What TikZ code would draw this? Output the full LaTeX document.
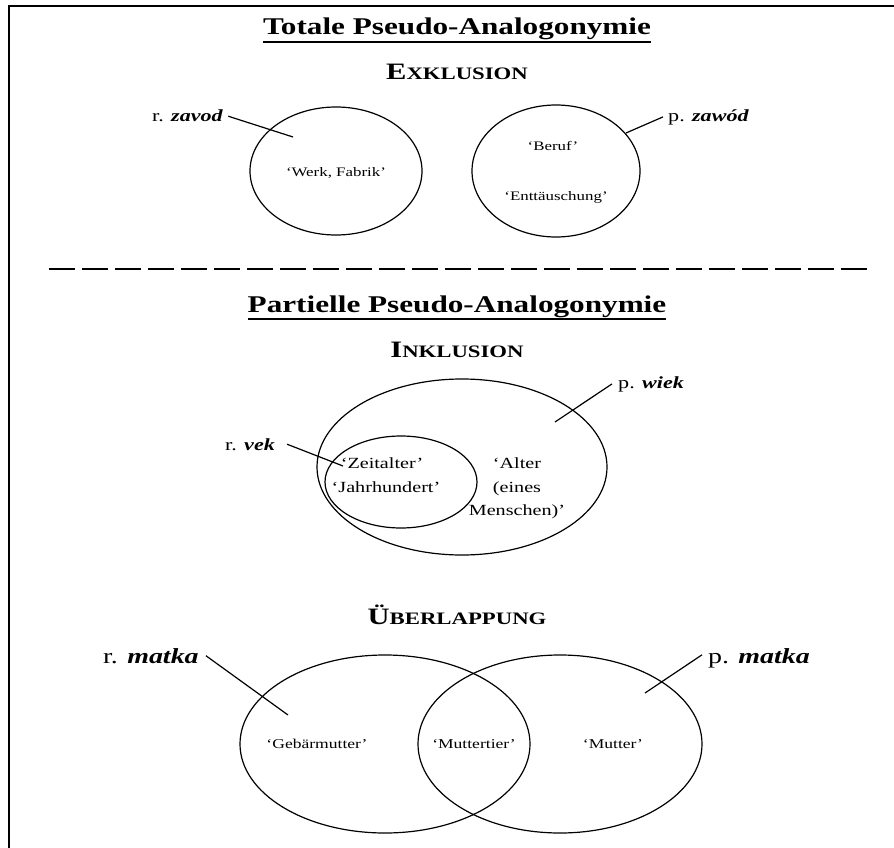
\documentclass[tikz,border=0pt]{standalone}
\usepackage{fontspec}
\setmainfont{Liberation Serif}[FakeStretch=1.3]
\newcommand\fsc[2]{{\fontsize{23.5}{26}\selectfont #1}{\fontsize{17.5}{20}\selectfont #2}}
\begin{document}
\begin{tikzpicture}[x=1pt,y=-1pt,
  title/.style={font=\fontsize{24}{28}\selectfont\bfseries, anchor=base, inner sep=0pt},
  head/.style={font=\bfseries, anchor=base, inner sep=0pt},
  word/.style={font=\fontsize{17}{20}\selectfont, anchor=base west, inner sep=0pt},
  bigword/.style={font=\fontsize{21.5}{24}\selectfont, anchor=base west, inner sep=0pt},
  sense/.style={font=\fontsize{13}{16}\selectfont, anchor=base, inner sep=0pt},
  sensebig/.style={font=\fontsize{15.5}{18}\selectfont, anchor=base, inner sep=0pt},
  sensemid/.style={font=\fontsize{13.5}{16}\selectfont, anchor=base, inner sep=0pt},
  circ/.style={draw, line width=1.2pt},
  conn/.style={draw, line width=1.2pt},
  frame/.style={line width=2pt}]
\useasboundingbox (0,0) rectangle (894,848);
% frame
\draw[frame] (9,848) -- (9,6) -- (894,6);
% ---------- Totale ----------
\node[title] (t1) at (457,35) {Totale Pseudo-Analogonymie};
\draw[line width=2pt] ([yshift=-2pt]t1.south west) -- ([yshift=-2pt]t1.south east);
\node[head] (h1) at (457,80) {\fsc{E}{XKLUSION}};
\draw[circ] (336,171) ellipse [x radius=86, y radius=64];
\draw[circ] (556,171) ellipse [x radius=84, y radius=66];
\node[sense] (s1) at (336,176) {‘Werk, Fabrik’};
\node[sense] (s2) at (553,150) {‘Beruf’};
\node[sense] (s3) at (556,200) {‘Enttäuschung’};
\node[word] (rz) at (152,122) {r. \textbf{\textit{zavod}}};
\coordinate (rze) at (293,137);
\draw[conn] ([xshift=5pt]rz.east) -- (rze);
\node[word] (pz) at (668,122) {p. \textbf{\textit{zawód}}};
\coordinate (pze) at (626,133);
\draw[conn] ([xshift=-5pt,yshift=1pt]pz.west) -- (pze);
% dashed separator
\draw[line width=1.5pt, dash pattern=on 26pt off 7pt] (49,269) -- (867,269);
% ---------- Partielle ----------
\node[title] (t2) at (457,312) {Partielle Pseudo-Analogonymie};
\draw[line width=2pt] ([yshift=-2pt]t2.south west) -- ([yshift=-2pt]t2.south east);
\node[head] (h2) at (457,357) {\fsc{I}{NKLUSION}};
\draw[circ] (462,467) ellipse [x radius=145, y radius=88];
\draw[circ] (401,482) ellipse [x radius=76, y radius=46];
\node[sensebig] (s4) at (382,468) {‘Zeitalter’};
\node[sensebig] (s5) at (386,492) {‘Jahrhundert’};
\node[sensebig] (s6) at (517,468) {‘Alter};
\node[sensebig] (s7) at (517,492) {(eines};
\node[sensebig] (s8) at (517,515) {Menschen)’};
\node[word] (rv) at (225,450) {r. \textbf{\textit{vek}}};
\coordinate (rve) at (343,466);
\draw[conn] ([xshift=12pt]rv.east) -- (rve);
\node[word] (pw) at (618,388) {p. \textbf{\textit{wiek}}};
\coordinate (pwe) at (555,422);
\draw[conn] ([xshift=-6pt]pw.west) -- (pwe);
% ---------- Ueberlappung ----------
\node[head] (h3) at (457,624) {\fsc{Ü}{BERLAPPUNG}};
\draw[circ] (385,744) ellipse [x radius=145, y radius=89];
\draw[circ] (560,744) ellipse [x radius=142, y radius=89];
\node[sensemid] (s9) at (317,748) {‘Gebärmutter’};
\node[sensemid] (s10) at (474,748) {‘Muttertier’};
\node[sensemid] (s11) at (613,748) {‘Mutter’};
\node[bigword] (rm) at (103,663) {r. \textbf{\textit{matka}}};
\coordinate (rme) at (288,715);
\draw[conn] ([xshift=7pt]rm.east) -- (rme);
\node[bigword] (pm) at (708,663) {p. \textbf{\textit{matka}}};
\coordinate (pme) at (645,693);
\draw[conn] ([xshift=-6pt,yshift=3pt]pm.west) -- (pme);
\end{tikzpicture}
\end{document}
